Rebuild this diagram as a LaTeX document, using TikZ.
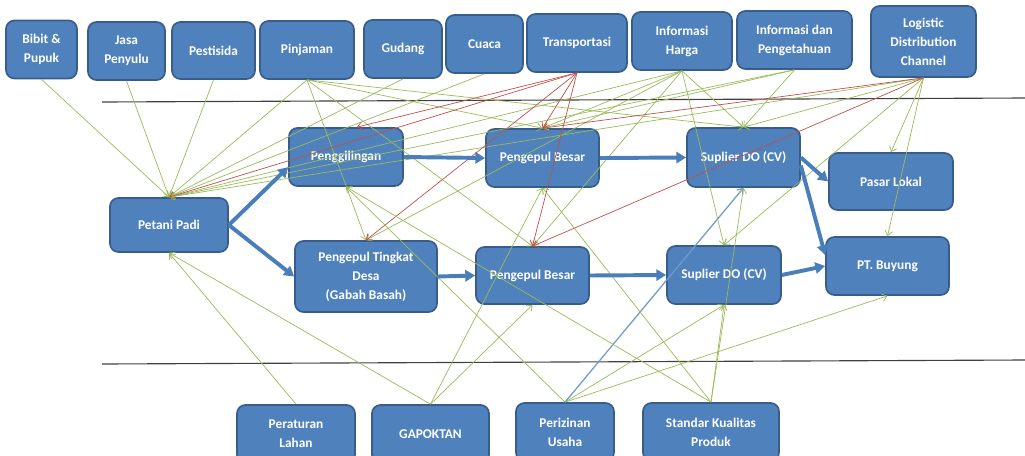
\documentclass[tikz,border=0pt]{standalone}
\usepackage{fontspec}
\setmainfont{Carlito}
\usepackage{tikz}
\usetikzlibrary{arrows.meta}
\definecolor{boxblue}{HTML}{4F81BD}
\definecolor{boxedge}{HTML}{385D8A}
\definecolor{linkgreen}{HTML}{9BBB59}
\definecolor{linkred}{HTML}{C0504D}
\definecolor{flowblue}{HTML}{4A7EBB}
\tikzset{
    actor/.style 2 args={
        draw=boxedge, fill=boxblue, rounded corners=6pt, line width=1.2pt,
        text=white, font=\bfseries\fontsize{9.5}{13.5}\selectfont, align=center,
        inner sep=1pt, minimum width=#1*0.025cm, minimum height=#2*0.025cm
    },
    link/.style={draw=linkgreen, line width=0.5pt, -{Straight Barb[length=3.5pt,width=5.5pt]}},
    redlink/.style={link, draw=linkred},
    bluelink/.style={link, draw=boxblue!80, line width=0.9pt},
    flow/.style={draw=flowblue, line width=2.8pt, -{Triangle[length=7pt,width=8pt]}},
    divider/.style={draw=black!75, line width=0.8pt},
}

\begin{document}
\begin{tikzpicture}[x=0.025cm, y=-0.025cm]
\useasboundingbox (0,0) rectangle (1025,455);
\draw[divider] (102,102) -- (1025,98);
\draw[divider] (102,364) -- (1025,360);

% top row
\node[actor={71}{58}] (bibit) at (41.5,49.5) {Bibit \&\\Pupuk};
\node[actor={77}{58}] (jasa) at (126.5,51) {Jasa\\Penyulu};
\node[actor={83}{57}] (pestisida) at (213.5,50.5) {Pestisida};
\node[actor={94}{58}] (pinjaman) at (307,50) {Pinjaman};
\node[actor={78}{58}] (gudang) at (403,49) {Gudang};
\node[actor={77}{58}] (cuaca) at (484.5,44) {Cuaca};
\node[actor={100}{58}] (transportasi) at (577,43) {Transportasi};
\node[actor={100}{58}] (infoharga) at (682,41) {Informasi\\Harga};
\node[actor={115}{58}] (infotahu) at (794.5,40) {Informasi dan\\Pengetahuan};
\node[actor={105}{71}] (logistic) at (923.5,41.5) {Logistic\\Distribution\\Channel};

% chain
\node[actor={118}{54}] (petani) at (169,225) {Petani Padi};
\node[actor={114}{58}] (giling) at (346,157) {Penggilingan};
\node[actor={142}{71}] (ptd) at (366,276.5) {Pengepul Tingkat\\Desa\\(Gabah Basah)};
\node[actor={113}{58}] (pbtop) at (542.5,158) {Pengepul Besar};
\node[actor={113}{57}] (pbbot) at (532.5,275.5) {Pengepul Besar};
\node[actor={113}{59}] (suptop) at (743.5,157.5) {Suplier DO (CV)};
\node[actor={114}{58}] (supbot) at (724,275) {Suplier DO (CV)};
\node[actor={124}{57}] (pasar) at (891,181.5) {Pasar Lokal};
\node[actor={123}{58}] (ptb) at (887.5,266) {PT. Buyung};

% bottom row
\node[actor={118}{58}] (peraturan) at (296,434) {Peraturan\\Lahan};
\node[actor={117}{58}] (gapoktan) at (430.5,434) {GAPOKTAN};
\node[actor={98}{58}] (perizinan) at (565,432) {Perizinan\\Usaha};
\node[actor={136}{58}] (standar) at (711,432) {Standar Kualitas\\Produk};

% influences from above
\foreach \src in {bibit,jasa,pestisida,pinjaman,gudang,cuaca,infoharga,infotahu,logistic}
    \draw[link] (\src.south) -- (petani.north);
\foreach \dst in {ptd,pbtop,pbbot,suptop}
    \draw[link] (pinjaman.south) -- (\dst.north);
\foreach \dst in {ptd,pbtop,pbbot,suptop,supbot}
    \draw[link] (infoharga.south) -- (\dst.north);
\foreach \dst in {pbtop,suptop}
    \draw[link] (infotahu.south) -- (\dst.north);
\foreach \dst in {suptop,supbot,pasar,ptb}
    \draw[link] (logistic.south) -- (\dst.north);
\foreach \dst in {petani,ptd,pbtop,pbbot}
    \draw[redlink] (transportasi.south) -- (\dst.north);
\draw[redlink] (transportasi.south) -- (giling.70);
\foreach \dst in {pbtop,pbbot}
    \draw[redlink] (logistic.south) -- (\dst.north);

% influences from below
\foreach \src in {peraturan,gapoktan}
    \draw[link] (\src.north) -- (petani.south);
\foreach \dst in {pbtop,pbbot}
    \draw[link] (gapoktan.north) -- (\dst.south);
\foreach \dst in {giling,supbot,ptb}
    \draw[link] (perizinan.north) -- (\dst.south);
\draw[bluelink] (perizinan.north) -- (suptop.south);
\foreach \dst in {giling,pbtop,suptop,supbot}
    \draw[link] (standar.north) -- (\dst.south);

% rice flow
\draw[flow] (petani.east) -- (giling.190);
\draw[flow] (petani.east) -- (ptd.west);
\draw[flow] (giling.east) -- (pbtop.west);
\draw[flow] (ptd.east) -- (pbbot.west);
\draw[flow] (pbtop.east) -- (suptop.west);
\draw[flow] (pbbot.east) -- (supbot.west);
\draw[flow] (suptop.east) -- (pasar.west);
\draw[flow] (suptop.-8) -- (ptb.170);
\draw[flow] (supbot.east) -- (ptb.west);
\end{tikzpicture}
\end{document}
